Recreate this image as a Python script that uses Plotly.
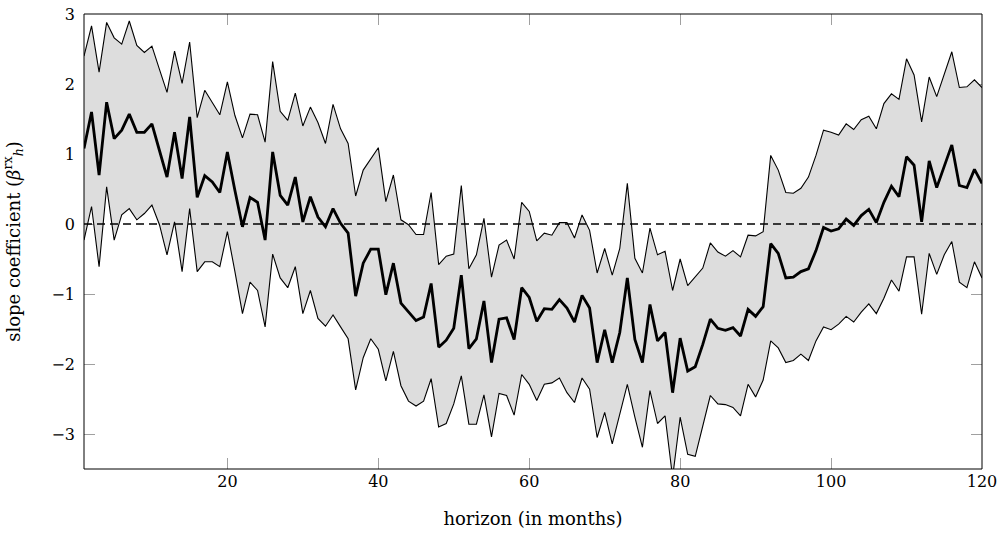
import plotly.graph_objects as go

horizon = list(range(1, 121))

upper = [
    2.40, 2.83, 2.17, 2.88, 2.66, 2.57, 2.90, 2.55, 2.45, 2.54,
    2.21, 1.88, 2.47, 2.01, 2.60, 1.52, 1.91, 1.74, 1.56, 2.03,
    1.55, 1.23, 1.57, 1.56, 1.17, 2.32, 1.61, 1.48, 1.87, 1.40,
    1.67, 1.45, 1.15, 1.71, 1.36, 1.15, 0.40, 0.77, 0.93, 1.09,
    0.32, 0.70, 0.06, -0.01, -0.15, -0.15, 0.45, -0.58, -0.46, -0.43,
    0.55, -0.64, -0.44, 0.08, -0.76, -0.30, -0.23, -0.50, 0.31, 0.18,
    -0.24, -0.13, -0.16, 0.02, 0.02, -0.20, 0.13, -0.09, -0.70, -0.35,
    -0.73, -0.35, 0.58, -0.49, -0.70, -0.06, -0.44, -0.39, -0.95, -0.50,
    -0.88, -0.76, -0.63, -0.27, -0.40, -0.46, -0.38, -0.47, -0.16, -0.17,
    -0.11, 0.98, 0.77, 0.45, 0.44, 0.51, 0.67, 0.98, 1.34, 1.31,
    1.27, 1.43, 1.35, 1.49, 1.54, 1.36, 1.72, 1.86, 1.78, 2.36,
    2.13, 1.46, 2.10, 1.82, 2.14, 2.46, 1.95, 1.96, 2.06, 1.95,
]

estimate = [
    1.08, 1.60, 0.70, 1.74, 1.22, 1.34, 1.57, 1.31, 1.31, 1.43,
    1.05, 0.67, 1.31, 0.65, 1.53, 0.38, 0.69, 0.60, 0.45, 1.03,
    0.48, -0.04, 0.38, 0.31, -0.23, 1.03, 0.41, 0.27, 0.67, 0.03,
    0.39, 0.10, -0.04, 0.22, 0.01, -0.13, -1.03, -0.56, -0.36, -0.36,
    -1.01, -0.56, -1.13, -1.25, -1.38, -1.33, -0.85, -1.76, -1.66, -1.49,
    -0.73, -1.78, -1.64, -1.10, -1.98, -1.36, -1.34, -1.65, -0.91, -1.05,
    -1.39, -1.21, -1.22, -1.08, -1.20, -1.40, -1.02, -1.20, -1.98, -1.51,
    -1.98, -1.55, -0.77, -1.65, -1.98, -1.15, -1.67, -1.55, -2.41, -1.63,
    -2.10, -2.04, -1.72, -1.36, -1.49, -1.52, -1.48, -1.60, -1.22, -1.32,
    -1.18, -0.28, -0.42, -0.77, -0.76, -0.68, -0.64, -0.38, -0.05, -0.10,
    -0.07, 0.07, -0.02, 0.12, 0.21, 0.02, 0.31, 0.54, 0.39, 0.96,
    0.84, 0.03, 0.90, 0.52, 0.83, 1.13, 0.55, 0.52, 0.78, 0.58,
]

lower = [
    -0.23, 0.25, -0.61, 0.53, -0.23, 0.13, 0.22, 0.06, 0.15, 0.27,
    -0.01, -0.44, 0.03, -0.68, 0.22, -0.68, -0.54, -0.54, -0.61, -0.11,
    -0.68, -1.28, -0.83, -0.95, -1.47, -0.43, -0.77, -0.91, -0.61, -1.28,
    -0.95, -1.35, -1.46, -1.30, -1.47, -1.64, -2.37, -1.91, -1.64, -1.79,
    -2.24, -1.82, -2.31, -2.53, -2.60, -2.53, -2.21, -2.90, -2.85, -2.57,
    -2.17, -2.86, -2.86, -2.44, -3.04, -2.42, -2.45, -2.73, -2.15, -2.29,
    -2.52, -2.29, -2.27, -2.20, -2.41, -2.55, -2.20, -2.36, -3.05, -2.69,
    -3.14, -2.72, -2.29, -2.76, -3.19, -2.38, -2.85, -2.74, -3.62, -2.76,
    -3.29, -3.32, -2.88, -2.45, -2.57, -2.58, -2.62, -2.74, -2.29, -2.47,
    -2.23, -1.67, -1.77, -1.98, -1.95, -1.86, -1.95, -1.67, -1.47, -1.51,
    -1.43, -1.32, -1.40, -1.26, -1.14, -1.28, -1.06, -0.80, -0.96, -0.47,
    -0.47, -1.29, -0.42, -0.72, -0.44, -0.25, -0.83, -0.91, -0.54, -0.77,
]

x_ticks = [20, 40, 60, 80, 100, 120]
y_ticks = [-3, -2, -1, 0, 1, 2, 3]
x_title = "horizon (in months)"
y_title = "slope coefficient (<i>β</i><sup>rx</sup><sub><i>h</i></sub>)"

FONT = "DejaVu Serif"

fig = go.Figure()
fig.add_trace(go.Scatter(x=horizon, y=lower, mode="lines",
                         line=dict(color="black", width=1.1),
                         showlegend=False, hoverinfo="skip"))
fig.add_trace(go.Scatter(x=horizon, y=upper, mode="lines", fill="tonexty",
                         fillcolor="#dddddd",
                         line=dict(color="black", width=1.1),
                         showlegend=False, hoverinfo="skip"))
fig.add_trace(go.Scatter(x=[horizon[0], horizon[-1]], y=[0, 0], mode="lines",
                         line=dict(color="black", width=1.3, dash="8px,5px"),
                         showlegend=False, hoverinfo="skip"))
fig.add_trace(go.Scatter(x=horizon, y=estimate, mode="lines",
                         line=dict(color="black", width=2.8),
                         showlegend=False, hoverinfo="skip"))

axis_common = dict(
    showgrid=False, zeroline=False, showline=False, automargin=False,
    ticks="inside", ticklen=11, tickwidth=1, tickcolor="#a0a0a0",
    mirror="ticks", layer="below traces",
    tickfont=dict(family=FONT, size=16, color="black"),
)

fig.update_xaxes(range=[1, 120], tickvals=x_ticks, ticklabelstandoff=1,
                 title=dict(text=x_title, font=dict(family=FONT, size=18, color="black"), standoff=22),
                 **axis_common)
fig.update_yaxes(range=[-3.5, 3], tickvals=y_ticks, ticklabelstandoff=8,
                 title=dict(text=y_title, font=dict(family=FONT, size=18, color="black"), standoff=26),
                 **axis_common)

fig.add_shape(type="rect", xref="paper", yref="paper", x0=0, x1=1, y0=0, y1=1,
              line=dict(color="black", width=1), layer="above")

fig.update_layout(
    width=999, height=537,
    margin=dict(l=84, r=17, t=14, b=68),
    paper_bgcolor="white", plot_bgcolor="white",
    font=dict(family=FONT, color="black"),
)

fig.write_html("out.html", config={"displayModeBar": False},
               post_script="document.body.style.margin='0';")
